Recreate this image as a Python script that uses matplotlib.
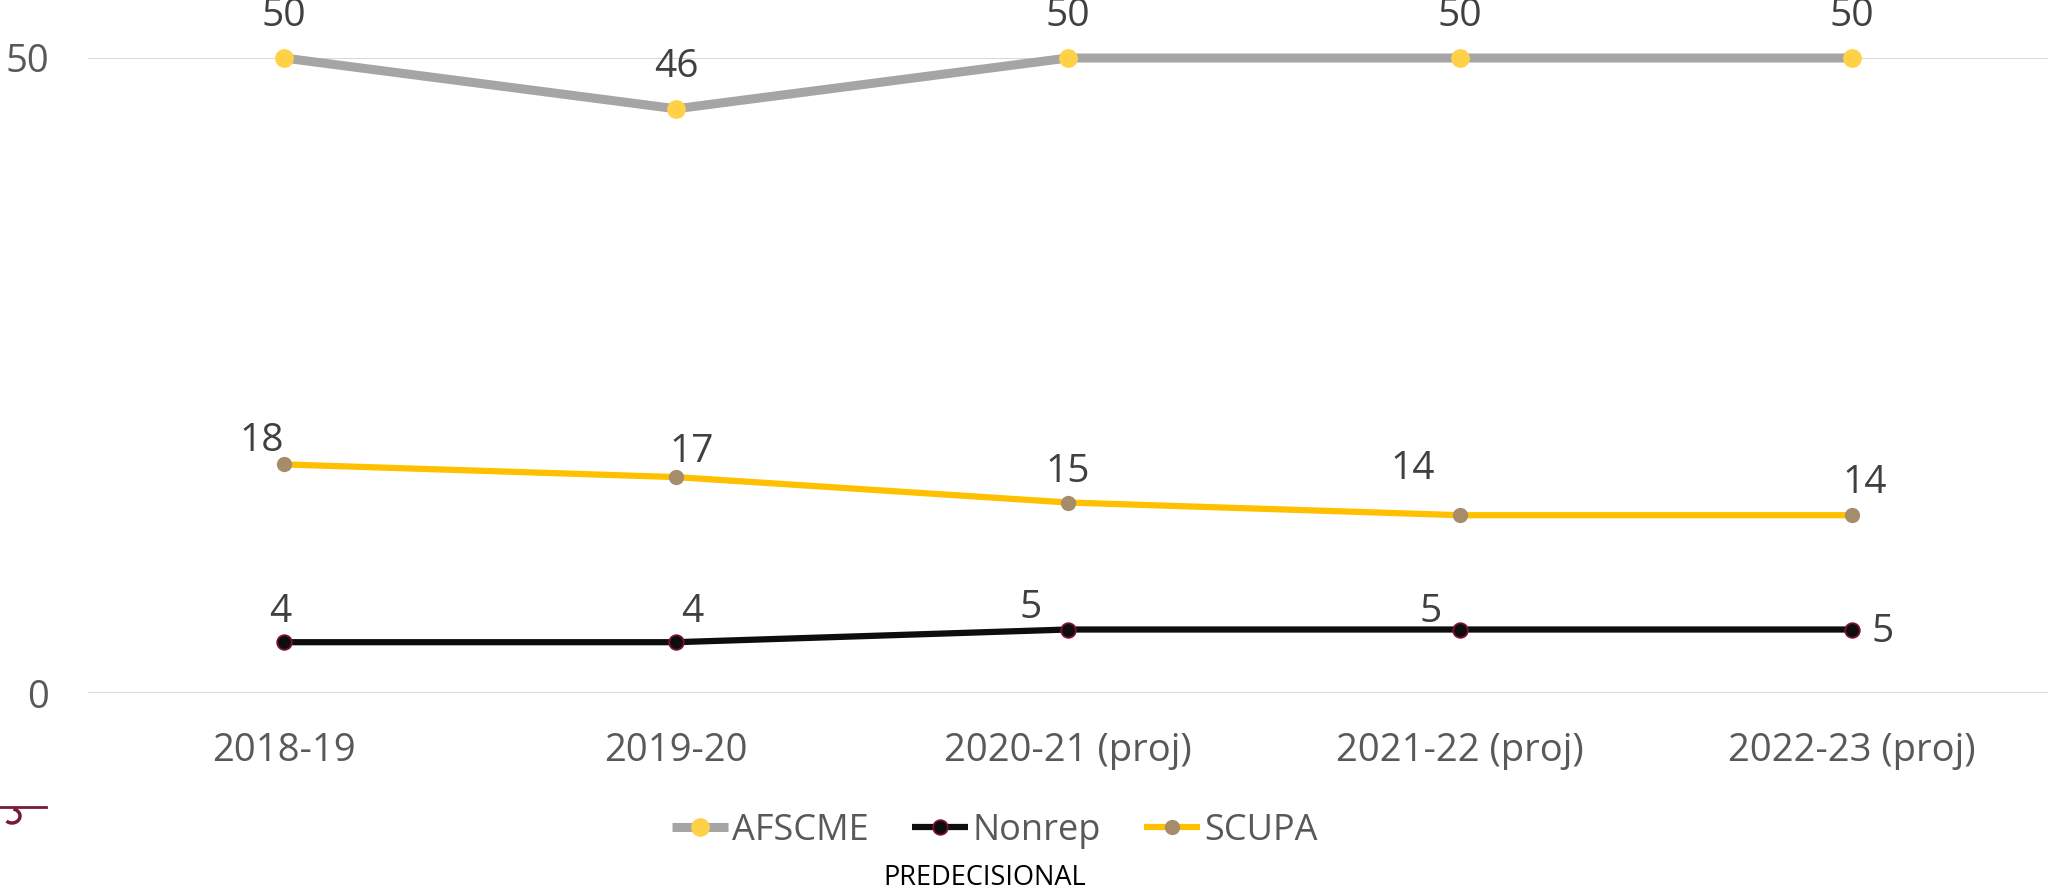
import matplotlib
matplotlib.use("Agg")
import matplotlib.pyplot as plt
from matplotlib.lines import Line2D
from matplotlib.patches import Arc

# chart data
categories = ["2018-19", "2019-20", "2020-21 (proj)", "2021-22 (proj)", "2022-23 (proj)"]
afscme = [50, 46, 50, 50, 50]
nonrep = [4, 4, 5, 5, 5]
scupa = [18, 17, 15, 14, 14]

# label offsets (pixels) relative to each point
afscme_off = [(0, 42)] * 5
nonrep_off = [(-4, 30), (16, 30), (-37, 21), (-29, 17), (31, -3)]
scupa_off = [(-22, 23), (16, 25), (0, 31), (-47, 46), (13, 32)]

plt.rcParams['font.family'] = ['Open Sans', 'DejaVu Sans']

W, H = 2048, 893
fig = plt.figure(figsize=(W / 100, H / 100), dpi=100)
ax = fig.add_axes([88 / W, 1 - 693 / H, 1 - 88 / W, (693 - 58) / H])

x = list(range(len(categories)))

series = [
    ("AFSCME", afscme, afscme_off, dict(color="#A5A5A5", lw=6.5, marker="o", ms=13.5,
                                        mfc="#FFD147", mec="#FFD147", mew=0)),
    ("Nonrep", nonrep, nonrep_off, dict(color="#0D0D0D", lw=4.5, marker="o", ms=10.5,
                                        mfc="#0D0D0D", mec="#7B0F3A", mew=1.3)),
    ("SCUPA", scupa, scupa_off, dict(color="#FFC000", lw=4.5, marker="o", ms=11,
                                     mfc="#A58D6B", mec="#A58D6B", mew=0)),
]

handles = []
for name, vals, offs, style in series:
    h, = ax.plot(x, vals, label=name, clip_on=False, zorder=3,
                 solid_capstyle='butt', **style)
    handles.append(h)
    for xi, v, (dx, dy) in zip(x, vals, offs):
        ax.annotate(str(v), (xi, v), xytext=(dx, dy), textcoords='offset pixels',
                    ha='center', va='center', fontsize=28, color="#404040",
                    annotation_clip=False)

ax.set_xlim(-0.5, len(categories) - 0.5)
ax.set_ylim(0, 50)
ax.set_yticks([0, 50])
ax.set_xticks(x)
ax.set_xticklabels(categories)
ax.grid(axis='y', color="#D9D9D9", lw=1.5)
ax.set_axisbelow(True)
for s in ax.spines.values():
    s.set_visible(False)
ax.tick_params(axis='both', length=0, labelsize=27.5, labelcolor="#595959")
ax.tick_params(axis='y', pad=28)
ax.tick_params(axis='x', pad=28)

leg = fig.legend(handles=handles, loc='center', bbox_to_anchor=(995 / W, 1 - 831 / H),
                 ncol=3, frameon=False, fontsize=26, handlelength=1.55,
                 handletextpad=0.12, columnspacing=1.2, labelcolor="#595959")

fig.text(985 / W, 1 - 878 / H, "PREDECISIONAL", ha='center', va='center',
         fontsize=19.5, color="black")

# cut-off maroon mark at bottom left
fig.add_artist(Line2D([0, 46 / W], [1 - 807 / H, 1 - 807 / H], transform=fig.transFigure,
                      color="#7A1839", lw=2))
fig.add_artist(Arc((12 / W, 1 - 816 / H), 16 / W, 14 / H, theta1=-115, theta2=85,
                   transform=fig.transFigure, color="#7A1839", lw=2.5))

fig.savefig("out.png", dpi=100)
